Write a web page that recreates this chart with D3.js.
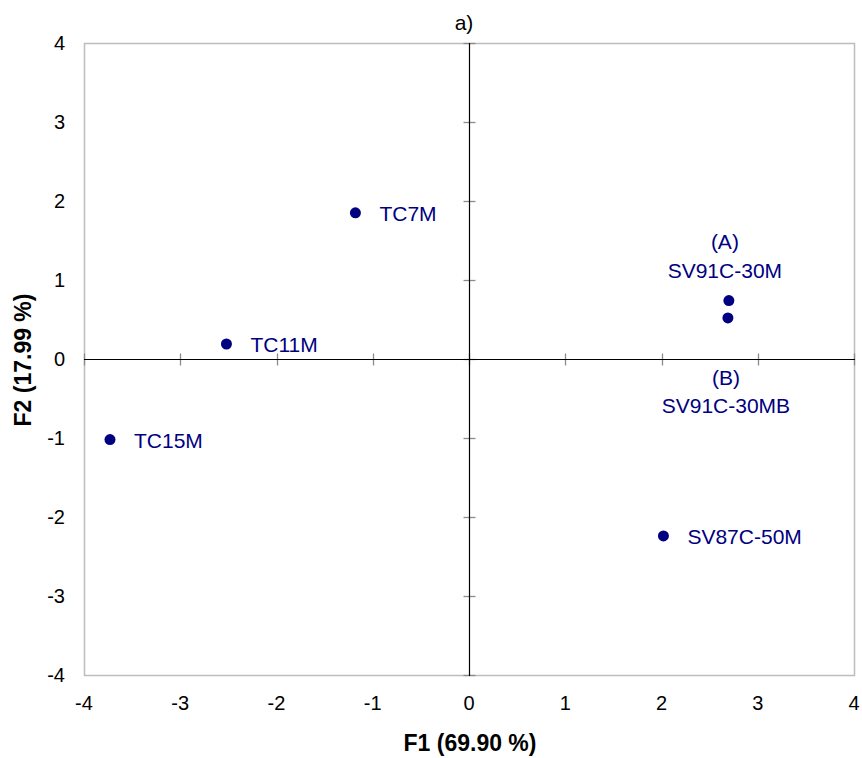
<!DOCTYPE html>
<html>
<head>
<meta charset="utf-8">
<script src="https://cdn.jsdelivr.net/npm/d3@7"></script>
<style>
  html, body { margin: 0; padding: 0; background: #fff; }
  svg { display: block; font-family: "Liberation Sans", Arial, sans-serif; }
</style>
</head>
<body>
<svg id="chart" width="862" height="758"></svg>
<script>
// ---- data ----
const labels = ["TC7M", "TC11M", "TC15M", "SV91C-30M", "SV91C-30MB", "SV87C-50M"];
const f1 = [-1.18, -2.52, -3.73, 2.70, 2.69, 2.02];
const f2 = [1.85, 0.19, -1.02, 0.74, 0.52, -2.24];
const xTicks = [-4, -3, -2, -1, 0, 1, 2, 3, 4];
const yTicks = [-4, -3, -2, -1, 0, 1, 2, 3, 4];
const chartTitle = "a)";
const xTitle = "F1 (69.90 %)";
const yTitle = "F2 (17.99 %)";

// ---- layout ----
const svg = d3.select("#chart");
const L = 84, R = 854, T = 43, B = 675;
const x = d3.scaleLinear().domain([-4, 4]).range([L, R]);
const y = d3.scaleLinear().domain([-4, 4]).range([B, T]);
const px = v => Math.round(v) + 0.5;
const navy = "#000080";

// plot border
svg.append("rect").attr("x", L + 0.5).attr("y", T + 0.5).attr("width", R - L).attr("height", B - T)
  .attr("fill", "none").attr("stroke", "#bdbdbd").attr("stroke-width", 1.5);

// tick marks crossing zero axes
svg.append("g").selectAll("line").data(xTicks).join("line")
  .attr("x1", d => px(x(d))).attr("x2", d => px(x(d)))
  .attr("y1", px(y(0)) - 6).attr("y2", px(y(0)) + 6)
  .attr("stroke", "#8c8c8c").attr("stroke-width", 1.3);
svg.append("g").selectAll("line").data(yTicks).join("line")
  .attr("x1", px(x(0)) - 6).attr("x2", px(x(0)) + 6)
  .attr("y1", d => px(y(d))).attr("y2", d => px(y(d)))
  .attr("stroke", "#8c8c8c").attr("stroke-width", 1.3);

// zero axes
svg.append("line").attr("x1", L).attr("x2", R + 1).attr("y1", px(y(0))).attr("y2", px(y(0)))
  .attr("stroke", "#000").attr("stroke-width", 1.2);
svg.append("line").attr("x1", px(x(0))).attr("x2", px(x(0))).attr("y1", T).attr("y2", B + 1)
  .attr("stroke", "#000").attr("stroke-width", 1.2);

// tick labels
svg.append("g").selectAll("text").data(xTicks).join("text")
  .attr("x", d => x(d)).attr("y", 710)
  .attr("text-anchor", "middle").attr("font-size", 20).attr("fill", "#000")
  .text(d => d);
svg.append("g").selectAll("text").data(yTicks).join("text")
  .attr("x", 65).attr("y", d => y(d) + 7)
  .attr("text-anchor", "end").attr("font-size", 20).attr("fill", "#000")
  .text(d => d);

// points
svg.append("g").selectAll("circle").data(f1).join("circle")
  .attr("cx", (d, i) => x(d)).attr("cy", (d, i) => y(f2[i]))
  .attr("r", 5.5).attr("fill", navy);

// point labels
const lab = svg.append("g").attr("font-size", 21).attr("fill", navy);
[0, 1, 2, 5].forEach(i => {
  lab.append("text").attr("x", x(f1[i]) + 24).attr("y", y(f2[i]) + 8).text(labels[i]);
});
// (A) SV91C-30M above
lab.append("text").attr("x", x(f1[3]) - 4).attr("y", y(f2[3]) - 52)
  .attr("text-anchor", "middle").text("(A)");
lab.append("text").attr("x", x(f1[3]) - 4).attr("y", y(f2[3]) - 23)
  .attr("text-anchor", "middle").text(labels[3]);
// (B) SV91C-30MB below
lab.append("text").attr("x", x(f1[4]) - 2).attr("y", y(f2[4]) + 67)
  .attr("text-anchor", "middle").text("(B)");
lab.append("text").attr("x", x(f1[4]) - 2).attr("y", y(f2[4]) + 95)
  .attr("text-anchor", "middle").text(labels[4]);

// titles
svg.append("text").attr("x", 464).attr("y", 30).attr("text-anchor", "middle")
  .attr("font-size", 21).attr("fill", "#000").text(chartTitle);
svg.append("text").attr("x", 470).attr("y", 751).attr("text-anchor", "middle")
  .attr("font-size", 23).attr("font-weight", "bold").attr("fill", "#000").text(xTitle);
svg.append("text").attr("transform", "translate(31," + 360 + ") rotate(-90)")
  .attr("text-anchor", "middle")
  .attr("font-size", 23).attr("font-weight", "bold").attr("fill", "#000").text(yTitle);
</script>
</body>
</html>
